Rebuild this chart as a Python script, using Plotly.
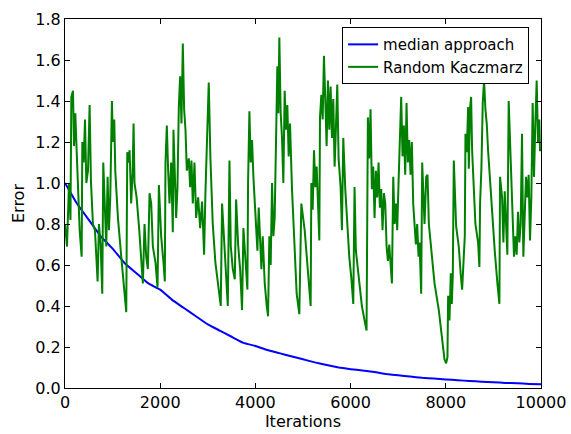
import plotly.graph_objects as go

# Blue series: median approach
median_iter = [0, 250, 500, 750, 1000, 1250, 1500, 1750, 2000, 2250, 2500, 2750, 3000,
               3250, 3500, 3750, 4000, 4250, 4500, 4750, 5000, 5250, 5500, 5750, 6000,
               6250, 6500, 6750, 7000, 7250, 7500, 7750, 8000, 8250, 8500, 8750, 9000,
               9250, 9500, 9750, 10000]
median_err = [1.00, 0.90, 0.82, 0.74, 0.68, 0.61, 0.56, 0.51, 0.48, 0.43, 0.39, 0.35, 0.31,
              0.28, 0.25, 0.22, 0.205, 0.185, 0.17, 0.155, 0.14, 0.125, 0.112, 0.100, 0.092,
              0.085, 0.078, 0.068, 0.062, 0.056, 0.050, 0.046, 0.042, 0.038, 0.034, 0.031, 0.028,
              0.025, 0.023, 0.020, 0.018]

# Green series: Random Kaczmarz
rk_points = [
    (0, 0.80), (42, 0.69), (84, 1.00), (115, 0.82), (133, 1.42), (168, 1.45), (189, 1.18),
    (217, 1.34), (238, 1.20), (280, 0.93), (308, 0.77), (350, 0.64), (364, 1.20), (392, 1.10),
    (420, 1.31), (448, 1.00), (483, 1.06), (517, 1.38), (545, 1.01), (587, 0.80), (629, 0.77),
    (685, 0.52), (713, 0.80), (748, 0.70), (783, 0.46), (804, 1.10), (839, 0.83), (867, 0.69),
    (895, 1.03), (923, 0.77), (951, 0.93), (986, 1.40), (1007, 1.20), (1035, 1.31), (1056, 1.06),
    (1112, 0.83), (1182, 0.64), (1238, 0.48), (1287, 0.37), (1308, 1.15), (1336, 1.10),
    (1357, 1.16), (1390, 0.90), (1420, 1.05), (1441, 1.29), (1460, 1.00), (1504, 0.93),
    (1560, 0.77), (1636, 0.51),
    (1671, 0.80), (1706, 0.64), (1741, 0.58), (1776, 0.95), (1811, 0.90), (1846, 0.69),
    (1902, 0.61), (1944, 0.49), (1972, 0.99), (2020, 0.74), (2070, 0.61), (2097, 0.52),
    (2111, 1.10), (2139, 1.28), (2167, 1.06), (2195, 0.90), (2230, 1.10), (2265, 0.76),
    (2279, 1.26), (2307, 1.01), (2335, 0.83), (2363, 0.98), (2391, 1.37), (2419, 1.52),
    (2447, 1.29), (2475, 1.68), (2503, 1.36), (2531, 1.26), (2559, 1.06), (2601, 1.12),
    (2629, 0.98), (2657, 1.11), (2685, 0.90), (2720, 1.10), (2755, 0.83), (2797, 0.93),
    (2839, 0.78), (2880, 0.91), (2922, 0.65), (2950, 0.95), (2992, 1.26), (3020, 1.49),
    (3055, 1.12), (3104, 0.80), (3160, 0.61), (3230, 0.48), (3272, 0.40), (3300, 0.90),
    (3350, 0.69), (3385, 0.58), (3420, 0.40), (3455, 1.11), (3483, 0.69), (3525, 0.58),
    (3567, 0.53), (3595, 0.92), (3637, 0.70), (3679, 0.58), (3720, 0.38), (3748, 0.78),
    (3790, 0.61), (3832, 0.48), (3846, 1.00), (3874, 1.35), (3902, 1.10), (3930, 1.21),
    (3958, 1.03), (3986, 0.90), (4014, 0.78), (4042, 0.67), (4070, 0.88), (4098, 0.76),
    (4126, 0.58), (4154, 0.74), (4196, 0.51), (4238, 0.40), (4266, 0.35), (4293, 0.74),
    (4321, 0.60), (4350, 1.00), (4378, 0.74), (4405, 0.83), (4433, 1.13), (4461, 1.57),
    (4482, 1.34), (4503, 1.71), (4531, 1.34), (4559, 1.22), (4587, 1.00), (4615, 1.45),
    (4643, 1.26), (4671, 1.38), (4699, 1.13), (4727, 1.29), (4769, 0.97), (4818, 0.70),
    (4867, 0.46), (4923, 0.36), (4965, 0.90),
    (5035, 0.77), (5077, 0.65), (5119, 0.53), (5161, 0.40), (5175, 1.00), (5203, 0.87),
    (5231, 1.16), (5259, 0.98), (5287, 1.08), (5315, 0.87), (5343, 0.72), (5357, 1.32),
    (5385, 1.43), (5413, 1.31), (5440, 1.62), (5468, 1.41), (5496, 1.18), (5524, 1.50),
    (5552, 1.26), (5580, 1.47), (5608, 1.22), (5636, 1.41), (5664, 1.08), (5692, 1.27),
    (5720, 1.48), (5748, 1.12), (5790, 0.98), (5818, 0.77), (5846, 1.22), (5888, 0.97),
    (5930, 0.80), (5972, 0.64), (6014, 0.54), (6056, 0.41), (6083, 0.98), (6111, 0.67),
    (6153, 0.58), (6195, 0.48), (6237, 0.40), (6293, 0.33), (6335, 0.28), (6363, 1.32),
    (6391, 1.12), (6419, 1.36), (6447, 0.97), (6475, 1.08), (6503, 0.83), (6531, 1.06),
    (6559, 0.93), (6587, 1.10), (6615, 0.88), (6643, 0.97), (6671, 0.77), (6700, 0.95),
    (6728, 0.90), (6756, 0.69), (6784, 0.62), (6812, 0.70), (6840, 0.59), (6868, 0.51),
    (6896, 1.03), (6924, 0.80), (6952, 0.90), (6979, 0.77), (7007, 1.00), (7035, 1.18),
    (7063, 1.42), (7091, 1.13), (7119, 1.28), (7147, 1.04), (7175, 1.39), (7203, 1.10),
    (7231, 1.21), (7259, 1.04), (7287, 1.20), (7315, 0.90), (7343, 0.80), (7371, 0.70),
    (7399, 0.80), (7427, 0.64), (7448, 0.71),
    (7483, 0.46), (7504, 1.10), (7553, 0.80), (7588, 1.03), (7616, 1.04), (7644, 0.80),
    (7693, 0.67), (7763, 0.51), (7853, 0.38), (7923, 0.25), (7972, 0.14), (8007, 0.12),
    (8035, 0.15), (8049, 0.45), (8077, 0.33), (8105, 0.56), (8126, 0.41), (8147, 0.55),
    (8168, 1.11), (8217, 0.79), (8273, 0.69), (8315, 0.55), (8343, 0.48), (8371, 0.61),
    (8399, 0.74), (8413, 1.24), (8441, 1.15), (8469, 1.37), (8483, 1.07), (8511, 1.37),
    (8532, 1.42), (8553, 1.16), (8581, 1.00), (8622, 0.80), (8678, 0.71), (8706, 0.59),
    (8720, 0.90), (8748, 1.07), (8776, 1.39), (8804, 1.50), (8832, 1.36), (8860, 1.29),
    (8888, 1.16), (8930, 1.00), (8972, 0.83), (9028, 0.67), (9084, 0.51), (9126, 0.41),
    (9140, 1.03), (9182, 0.93), (9210, 0.71), (9238, 0.96), (9266, 0.80), (9293, 0.65),
    (9321, 1.40), (9349, 1.20), (9377, 1.00), (9405, 0.83), (9433, 0.64), (9461, 0.74),
    (9489, 0.65), (9517, 0.86), (9545, 0.71), (9573, 0.80), (9601, 1.24), (9629, 0.64),
    (9657, 0.86), (9685, 1.03), (9713, 0.93), (9741, 1.04), (9769, 0.72), (9797, 0.93),
    (9825, 1.39), (9853, 1.03), (9881, 1.29), (9909, 1.50), (9937, 1.20), (9965, 1.31),
    (9979, 1.16), (10000, 1.16),
]
rk_iter = [p[0] for p in rk_points]
rk_err = [p[1] for p in rk_points]

x_ticks = [0, 2000, 4000, 6000, 8000, 10000]
x_tick_labels = ["0", "2000", "4000", "6000", "8000", "10000"]
y_ticks = [0.0, 0.2, 0.4, 0.6, 0.8, 1.0, 1.2, 1.4, 1.6, 1.8]
y_tick_labels = ["0.0", "0.2", "0.4", "0.6", "0.8", "1.0", "1.2", "1.4", "1.6", "1.8"]

FONT = "DejaVu Sans"

fig = go.Figure()
fig.add_trace(go.Scatter(x=median_iter, y=median_err, mode="lines",
                         name="median approach",
                         line=dict(color="#0000ff", width=2, shape="spline", smoothing=0.3)))
fig.add_trace(go.Scatter(x=rk_iter, y=rk_err, mode="lines",
                         name="Random Kaczmarz",
                         line=dict(color="#008000", width=2)))

axis_common = dict(
    showgrid=False, zeroline=False, showline=True, linecolor="black", linewidth=1,
    mirror="ticks", ticks="inside", ticklen=5, tickwidth=1, tickcolor="black",
    tickfont=dict(family=FONT, size=16, color="black"), automargin=False,
)

fig.update_layout(
    width=571, height=434,
    margin=dict(l=65, r=30, t=19, b=46),
    paper_bgcolor="white", plot_bgcolor="white",
    font=dict(family=FONT, size=16, color="black"),
    showlegend=True,
    legend=dict(x=0.975, y=0.978, xanchor="right", yanchor="top",
                bgcolor="white", bordercolor="black", borderwidth=1,
                font=dict(family=FONT, size=15, color="black"),
                tracegroupgap=0),
    xaxis=dict(range=[0, 10000], tickvals=x_ticks, ticktext=x_tick_labels,
               title=dict(text="Iterations", font=dict(family=FONT, size=16), standoff=2),
               **axis_common),
    yaxis=dict(range=[0, 1.8], tickvals=y_ticks, ticktext=y_tick_labels,
               title=dict(text="Error", font=dict(family=FONT, size=16), standoff=6),
               **axis_common),
)

fig.write_html("out.html",
               config={"displayModeBar": False},
               post_script="document.body.style.margin='0';document.body.style.overflow='hidden';")
